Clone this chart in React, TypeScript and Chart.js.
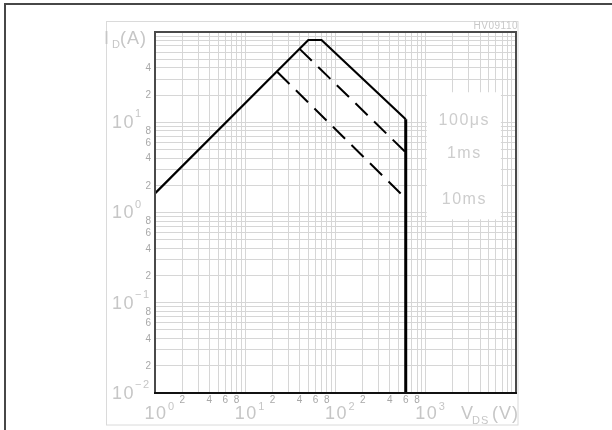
import React, { useEffect, useRef } from "react";
import { Chart, registerables } from "chart.js";

Chart.register(...registerables);

// ---- axis ranges ----
const X_MIN = 1;
const X_MAX = 10000;
const Y_MIN = 0.01;
const Y_MAX = 100;

// ---- series (V_DS in V, I_D in A) ----
const V_100US = [1, 50, 70, 600];
const I_100US = [1.63, 81.5, 81.5, 10.8];
const V_LIMIT = [600, 600];
const I_LIMIT = [10.8, 0.01];
const V_1MS = [40, 600];
const I_1MS = [65, 4.64];
const V_10MS = [22.7, 600];
const I_10MS = [36, 1.43];

// ---- tick labels ----
const X_MAJOR = [1, 10, 100, 1000];
const X_MAJOR_EXP = ["0", "1", "2", "3"];
const X_MINOR = [2, 4, 6, 8, 20, 40, 60, 80, 200, 400, 600, 800];
const X_MINOR_TEXT = ["2", "4", "6", "8", "2", "4", "6", "8", "2", "4", "6", "8"];
const Y_MAJOR = [10, 1, 0.1, 0.01];
const Y_MAJOR_EXP = ["1", "0", "\u22121", "\u22122"];
const Y_MINOR = [40, 20, 8, 6, 4, 2, 0.8, 0.6, 0.4, 0.2, 0.08, 0.06, 0.04, 0.02];
const Y_MINOR_TEXT = ["4", "2", "8", "6", "4", "2", "8", "6", "4", "2", "8", "6", "4", "2"];

// ---- legend labels (placed beside line ends) ----
const LEGEND_TEXT = ["100\u03bcs", "1ms", "10ms"];
const LEGEND_I = [10.8, 4.64, 1.43];

const FONT = "'Liberation Sans', Arial, sans-serif";

function gridValues(min: number, max: number) {
  const out: number[] = [];
  const e0 = Math.round(Math.log10(min));
  const e1 = Math.round(Math.log10(max));
  for (let e = e0; e < e1; e++) {
    for (let m = 1; m <= 9; m++) out.push(Number((m * Math.pow(10, e)).toPrecision(6)));
  }
  out.push(max);
  return out;
}

function pts(xs: number[], ys: number[]) {
  return xs.map((x, i) => ({ x, y: ys[i] }));
}

export default function App() {
  const ref = useRef<HTMLCanvasElement>(null);

  useEffect(() => {
    const canvas = ref.current!;

    const decor = {
      id: "decor",
      beforeDraw(chart: any) {
        const ctx = chart.ctx;
        ctx.save();
        ctx.fillStyle = "#ffffff";
        ctx.fillRect(0, 0, chart.width, chart.height);
        // light gray drawing frame
        ctx.strokeStyle = "#dadada";
        ctx.lineWidth = 1;
        ctx.strokeRect(106.5, 21.5, 411.5, 403.5);
        // outer dark frame
        ctx.fillStyle = "#474747";
        ctx.fillRect(4, 3, 608, 2);
        ctx.fillRect(4, 3, 2, 427);
        ctx.restore();
      },
      beforeDatasetsDraw(chart: any) {
        const { ctx } = chart;
        const x = chart.scales.x;
        const y = chart.scales.y;
        ctx.save();
        ctx.fillStyle = "#ffffff";
        const l = x.getPixelForValue(1000) + 1;
        const r = x.getPixelForValue(6800);
        const t = y.getPixelForValue(21.5);
        const b = y.getPixelForValue(0.84);
        ctx.fillRect(l, t, r - l, b - t);
        ctx.restore();
      },
      afterDraw(chart: any) {
        const { ctx, chartArea } = chart;
        const x = chart.scales.x;
        const y = chart.scales.y;
        ctx.save();
        // plot border
        ctx.lineWidth = 2;
        ctx.strokeStyle = "#4a4a4a";
        ctx.beginPath();
        ctx.moveTo(chartArea.left, chartArea.bottom);
        ctx.lineTo(chartArea.left, chartArea.top);
        ctx.lineTo(chartArea.right, chartArea.top);
        ctx.lineTo(chartArea.right, chartArea.bottom);
        ctx.stroke();
        ctx.strokeStyle = "#111111";
        ctx.beginPath();
        ctx.moveTo(chartArea.left - 1, chartArea.bottom);
        ctx.lineTo(chartArea.right + 1, chartArea.bottom);
        ctx.stroke();

        const big = "18px " + FONT;
        const sup = "11px " + FONT;
        const small = "10px " + FONT;
        (ctx as any).letterSpacing = "1.5px";

        // y major labels
        ctx.fillStyle = "#c6c6c6";
        ctx.textBaseline = "middle";
        Y_MAJOR.forEach((v, i) => {
          const py = y.getPixelForValue(v);
          ctx.font = big;
          ctx.textAlign = "right";
          ctx.fillText("10", 135, py + 1);
          ctx.font = sup;
          ctx.textAlign = "left";
          ctx.fillText(Y_MAJOR_EXP[i], 135, py - 8);
        });
        // x major labels
        X_MAJOR.forEach((v, i) => {
          const px = x.getPixelForValue(v);
          ctx.font = big;
          ctx.textAlign = "center";
          ctx.fillText("10", px + 1, 414);
          ctx.font = sup;
          ctx.textAlign = "left";
          ctx.fillText(X_MAJOR_EXP[i], px + 13, 407);
        });

        // minor labels
        (ctx as any).letterSpacing = "0px";
        ctx.fillStyle = "#a8a8a8";
        ctx.font = small;
        ctx.textAlign = "right";
        Y_MINOR.forEach((v, i) => {
          ctx.fillText(Y_MINOR_TEXT[i], 151, y.getPixelForValue(v) + 0.5);
        });
        ctx.textAlign = "center";
        X_MINOR.forEach((v, i) => {
          ctx.fillText(X_MINOR_TEXT[i], x.getPixelForValue(v), 400);
        });

        // axis titles
        (ctx as any).letterSpacing = "1px";
        ctx.fillStyle = "#c6c6c6";
        ctx.textAlign = "left";
        ctx.font = big;
        ctx.fillText("I", 104, 39);
        ctx.font = sup;
        ctx.fillText("D", 112, 45);
        ctx.font = big;
        ctx.fillText("(A)", 120, 39);

        ctx.font = big;
        ctx.fillText("V", 461, 414);
        ctx.font = sup;
        ctx.fillText("DS", 472, 421);
        ctx.font = big;
        ctx.fillText("(V)", 492, 414);

        // drawing code
        (ctx as any).letterSpacing = "0.5px";
        ctx.font = "10px " + FONT;
        ctx.textAlign = "right";
        ctx.fillStyle = "#c8c8c8";
        ctx.fillText("HV09110", 518, 26);

        // legend labels
        (ctx as any).letterSpacing = "1.5px";
        ctx.font = "16px " + FONT;
        ctx.textAlign = "center";
        ctx.fillStyle = "#cdcdcd";
        const lx = (x.getPixelForValue(1000) + x.getPixelForValue(6800)) / 2;
        LEGEND_TEXT.forEach((t, i) => {
          ctx.fillText(t, lx + 1, y.getPixelForValue(LEGEND_I[i]) + 1);
        });
        ctx.restore();
      },
    };

    const grid = {
      display: true,
      color: "#d6d6d6",
      lineWidth: 1,
      drawTicks: false,
    };

    const chart = new Chart(canvas, {
      type: "scatter",
      data: {
        datasets: [
          {
            label: "100us",
            data: pts(V_100US, I_100US),
            showLine: true,
            borderColor: "#000",
            borderWidth: 2.2,
            pointRadius: 0,
            fill: false,
          },
          {
            label: "limit",
            data: pts(V_LIMIT, I_LIMIT),
            showLine: true,
            borderColor: "#000",
            borderWidth: 3,
            pointRadius: 0,
            fill: false,
          },
          {
            label: "1ms",
            data: pts(V_1MS, I_1MS),
            showLine: true,
            borderColor: "#000",
            borderWidth: 2,
            borderDash: [17, 9],
            pointRadius: 0,
            fill: false,
          },
          {
            label: "10ms",
            data: pts(V_10MS, I_10MS),
            showLine: true,
            borderColor: "#000",
            borderWidth: 2,
            borderDash: [17, 9],
            pointRadius: 0,
            fill: false,
          },
        ],
      },
      options: {
        animation: false,
        responsive: false,
        devicePixelRatio: 1,
        layout: { padding: { left: 155, top: 32, right: 612 - 516, bottom: 430 - 393 } },
        plugins: {
          legend: { display: false },
          tooltip: { enabled: false },
          title: { display: false },
        },
        scales: {
          x: {
            type: "logarithmic",
            min: X_MIN,
            max: X_MAX,
            grid,
            border: { display: false },
            ticks: { display: false, autoSkip: false },
            afterBuildTicks: (s: any) => {
              s.ticks = gridValues(X_MIN, X_MAX).map((v) => ({ value: v }));
            },
          },
          y: {
            type: "logarithmic",
            min: Y_MIN,
            max: Y_MAX,
            grid,
            border: { display: false },
            ticks: { display: false, autoSkip: false },
            afterBuildTicks: (s: any) => {
              s.ticks = gridValues(Y_MIN, Y_MAX).map((v) => ({ value: v }));
            },
          },
        },
      } as any,
      plugins: [decor],
    });

    return () => chart.destroy();
  }, []);

  return (
    <div style={{ position: "fixed", left: 0, top: 0, width: 612, height: 430, background: "#fff" }}>
      <canvas ref={ref} width={612} height={430} style={{ width: 612, height: 430, display: "block" }} />
    </div>
  );
}
